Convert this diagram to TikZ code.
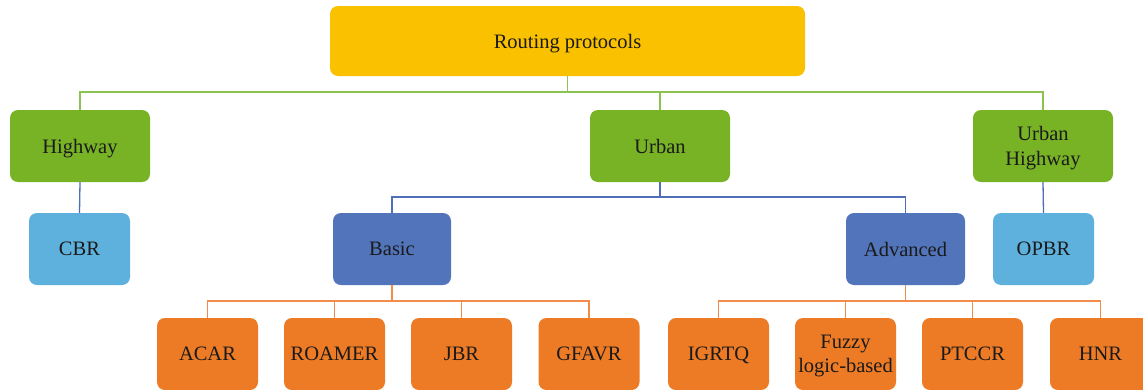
\documentclass[tikz,border=0pt]{standalone}
\usepackage{fontspec}
\setmainfont{Liberation Serif}
\definecolor{cgold}{HTML}{FAC100}
\definecolor{cgreen}{HTML}{78B326}
\definecolor{clblue}{HTML}{5DB1DC}
\definecolor{cdblue}{HTML}{5274BA}
\definecolor{corange}{HTML}{ED7B26}
\definecolor{lgreen}{HTML}{8CC350}
\definecolor{lblue}{HTML}{4F6FB8}
\definecolor{lorange}{HTML}{F08D4A}
\definecolor{ctext}{HTML}{1A1A1A}
\begin{document}
\begin{tikzpicture}[x=1pt,y=-1pt,
  box/.style={rounded corners=8pt, minimum height=72pt, inner sep=0pt, align=center,
    text=ctext, text depth=0pt, font=\fontsize{20.5}{24.5}\selectfont},
  rootbox/.style={box, fill=cgold, minimum width=475pt, minimum height=70pt},
  greenbox/.style={box, fill=cgreen, minimum width=140pt},
  lbluebox/.style={box, fill=clblue, minimum width=101pt},
  dbluebox/.style={box, fill=cdblue},
  orangebox/.style={box, fill=corange, minimum width=101pt},
  gline/.style={draw=lgreen, line width=1.3pt},
  bline/.style={draw=lblue, line width=1.3pt},
  oline/.style={draw=lorange, line width=1.3pt}]
\useasboundingbox (0,0) rectangle (1143,389);
\fill[white] (0,0) rectangle (1143,389);

\node[rootbox] (root) at (567.5,41) {Routing protocols};

\node[greenbox] (hw) at (80,146) {Highway};
\node[greenbox] (ur) at (660,146) {Urban};
\node[greenbox] (uh) at (1043,146) {Urban\\Highway};

\node[lbluebox] (cbr) at (79.5,249) {CBR};
\node[dbluebox, minimum width=118pt] (basic) at (392,249) {Basic};
\node[dbluebox, minimum width=119pt] (adv) at (905.5,249) {Advanced};
\node[lbluebox] (opbr) at (1043.5,249) {OPBR};

\node[orangebox] (acar) at (207.5,354) {ACAR};
\node[orangebox] (roamer) at (334.5,354) {ROAMER};
\node[orangebox] (jbr) at (461.5,354) {JBR};
\node[orangebox] (gfavr) at (589,354) {GFAVR};
\node[orangebox] (igrtq) at (718.5,354) {IGRTQ};
\node[orangebox] (fuzzy) at (845.5,354) {Fuzzy\\logic-based};
\node[orangebox] (ptccr) at (972.5,354) {PTCCR};
\node[orangebox] (hnr) at (1100.5,354) {HNR};

\coordinate (g) at (0,92);
\coordinate (b) at (0,197);
\coordinate (o) at (0,301);

\foreach \c in {hw,ur,uh}
  \draw[gline] (root.south) -- (root.south |- g) -| (\c.north);
\draw[bline] (hw.south) -- (cbr.north);
\draw[bline] (uh.south) -- (opbr.north);
\foreach \c in {basic,adv}
  \draw[bline] (ur.south) -- (ur.south |- b) -| (\c.north);
\foreach \c in {acar,roamer,jbr,gfavr}
  \draw[oline] (basic.south) -- (basic.south |- o) -| (\c.north);
\foreach \c in {igrtq,fuzzy,ptccr,hnr}
  \draw[oline] (adv.south) -- (adv.south |- o) -| (\c.north);
\end{tikzpicture}
\end{document}
